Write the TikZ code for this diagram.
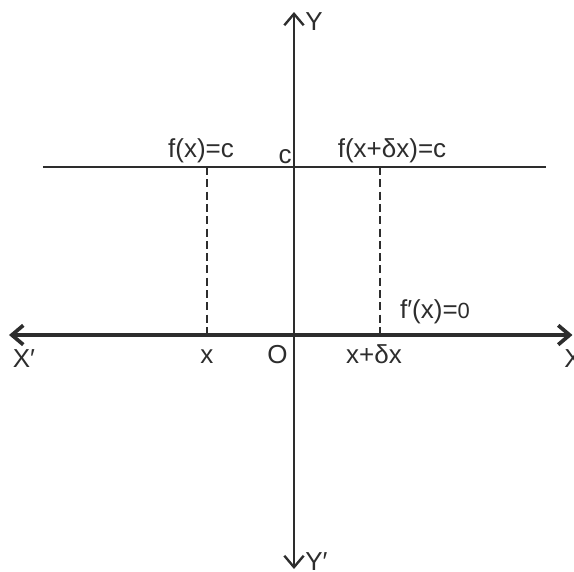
\documentclass[tikz,border=0pt]{standalone}
\usepackage{fontspec}
\setmainfont{Liberation Sans}
\usepackage{tikz}
\usetikzlibrary{arrows.meta}
\usepackage{tkz-euclide}

\definecolor{inkgray}{RGB}{45,45,45}
\tikzset{
  axisline/.style={inkgray, line width=1.35pt},
  mainaxis/.style={inkgray, line width=2.1pt},
  dropline/.style={inkgray, line width=1.35pt, dash pattern=on 4.6pt off 2.4pt},
  lbl/.style={inkgray, inner sep=0pt, font=\fontsize{14.8}{17}\selectfont}
}

\begin{document}
\begin{tikzpicture}[>={Straight Barb[length=6.5pt,width=11pt]}]
                \useasboundingbox (-5.88,-4.72) rectangle (5.60,6.70);
                \tkzDefPoint(0,0){O}
                \tkzDefPoint(-5.70,0){Xp}
                \tkzDefPoint(5.57,0){X}
                \tkzDefPoint(0,6.46){Y}
                \tkzDefPoint(0,-4.68){Yp}
                \tkzDefPoint(-5.02,3.36){L}
                \tkzDefPoint(5.04,3.36){R}
                \tkzDefPoint(-1.74,3.36){P}
                \tkzDefPoint(1.72,3.36){Q}
                \tkzDefPoint(-1.74,0){A}
                \tkzDefPoint(1.72,0){B}
                % the level line f(x)=c and the drops to the x-axis
                \draw[axisline] (L) -- (R);
                \draw[dropline] (P) -- (A) (Q) -- (B);
                \draw[axisline, <->] (Yp) -- (Y);
                \draw[mainaxis, <->] (Xp) -- (X);
                % labels
                \node[lbl, anchor=north west] (lY) at (0.22,6.46) {Y};
                \node[lbl, anchor=north west] (lYp) at (0.22,-4.34) {Y′};
                \node[lbl, anchor=base] (lfx) at (-1.86,3.56) {f(x)=c};
                \node[lbl, anchor=base east] (lc) at (-0.04,3.44) {c};
                \node[lbl, anchor=base] (lfxd) at (1.96,3.56) {f(x+δx)=c};
                \node[lbl, anchor=base] (ldf) at (2.82,0.34) {f′(x)=\fontsize{12.5}{15}\selectfont 0};
                \node[lbl, anchor=base] (lXp) at (-5.40,-0.64) {X′};
                \node[lbl, anchor=base] (lx) at (-1.74,-0.56) {x};
                \node[lbl, anchor=base east] (lO) at (-0.12,-0.56) {O};
                \node[lbl, anchor=base] (lxd) at (1.60,-0.56) {x+δx};
                \node[lbl, anchor=base west] (lX) at (5.40,-0.64) {X};
            \end{tikzpicture}
\end{document}
